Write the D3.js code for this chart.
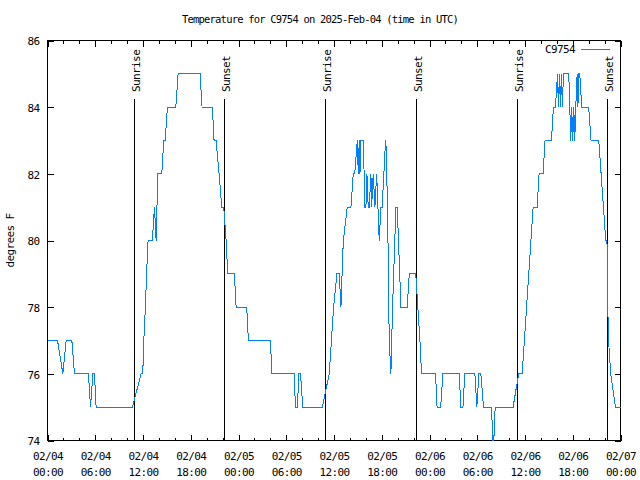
<!DOCTYPE html>
<html><head><meta charset="utf-8">
<script src="https://cdn.jsdelivr.net/npm/d3@7/dist/d3.min.js"></script>
<style>body{margin:0;background:#fff}svg{display:block}</style>
</head><body><svg id="chart" width="640" height="480"></svg>
<script>
// ---------- data ----------
const startTime = "2025-02-04T00:00:00Z";
const seriesName = "C9754";
const titleText = "Temperature for C9754 on 2025-Feb-04 (time in UTC)";
const yAxisLabel = "degrees F";
// hours since start time, and the temperature (°F) read at that moment
const hoursFromStart = [
  0, 1.26, 1.93, 2.35, 3.06, 3.39, 5.15, 5.4, 5.7, 5.9, 6.11, 10.67, 11.76, 11.97,
  12.1, 12.3, 12.45, 12.64, 13.18, 13.44, 13.65, 13.86, 14.36, 14.61, 14.78, 15.07,
  16.12, 16.41, 19.17, 19.42, 20.72, 20.93, 21.18, 21.56, 21.9, 22.15, 22.44, 22.65,
  23.48, 23.7, 25.03, 25.24, 28.0, 28.21, 31.0, 31.15, 31.39, 31.6, 31.8, 32.07,
  34.53, 35.4, 35.95, 36.37, 36.66, 36.87, 37.17, 37.67, 38.13, 38.42, 38.6, 38.93,
  39.05, 39.17, 39.26, 39.38, 39.68, 39.89, 40.01, 40.14, 40.3, 40.43, 40.64, 40.73,
  40.93, 41.14, 41.36, 41.68, 41.9, 42.05, 42.48, 42.52, 42.73, 42.94, 43.15, 43.36,
  43.78, 43.95, 44.41, 45.2, 45.46, 46.27, 46.8, 47.0, 48.76, 48.95, 49.4, 49.68,
  51.73, 51.95, 52.2, 52.44, 53.7, 53.95, 54.2, 54.45, 54.79, 55.8, 55.95, 56.08,
  56.25, 58.5, 59.2, 59.65, 61.02, 61.52, 61.77, 62.27, 62.52, 63.33, 63.57, 63.83,
  64.08, 64.2, 64.32, 64.45, 64.57, 64.7, 64.83, 65.5, 65.63, 65.75, 65.87, 66.0,
  66.13, 66.25, 66.38, 66.55, 66.65, 66.75, 66.88, 67.13, 68.0, 68.3, 69.27, 70.15,
  70.3, 70.4, 70.5, 70.77, 71.36, 72
];
const tempsF = [
  77, 77, 76, 77, 77, 76, 76, 75, 76, 76, 75, 75, 76, 76,
  77, 78, 79, 80, 80, 81, 80, 82, 82, 83, 83, 84,
  84, 85, 85, 84, 84, 83, 83, 82, 81, 81, 80, 79,
  79, 78, 78, 77, 77, 76, 76, 75, 75, 76, 76, 75,
  75, 76, 78, 79, 79, 78, 80, 81, 81, 82, 82, 83,
  82, 83, 82, 83, 83, 81, 81, 82, 81, 81, 82, 81,
  82, 81, 82, 80, 81, 81, 83, 83, 81, 77, 76, 78,
  81, 81, 78, 78, 79, 79, 77, 76, 76, 75, 75, 76,
  76, 75, 75, 76, 76, 75, 76, 76, 75, 75, 74, 74,
  75, 75, 76, 76, 81, 81, 82, 82, 83, 83, 84, 84,
  85, 84, 85, 84, 85, 84, 85, 85, 84, 83, 84, 83,
  84, 83, 84, 85, 84, 85, 85, 84, 84, 83, 83, 80,
  80, 78, 77, 76, 75, 75
];
const sunEventHours = [10.92, 22.22, 34.87, 46.29, 59.0, 70.3];
const sunEventLabels = ["Sunrise", "Sunset", "Sunrise", "Sunset", "Sunrise", "Sunset"];
const yTickValues = [74, 76, 78, 80, 82, 84, 86];
const xMajorTickHours = [0, 6, 12, 18, 24, 30, 36, 42, 48, 54, 60, 66, 72];
const xMinorTickHours = d3.range(0, 73, 2);

// ---------- layout ----------
const W = 640, H = 480;
const pL = 47.5, pR = 620.5, pT = 40.5, pB = 440.5;
const FONT = "'DejaVu Sans Mono', monospace";
const FS = 11;
const LS = "-0.6px";
const lineColor = "#0080ff";

const t0 = new Date(startTime).getTime();
const toDate = h => new Date(t0 + h * 3600e3);
const data = hoursFromStart.map((h, i) => ({ t: toDate(h), v: tempsF[i] }));

const svg = d3.select("#chart");
svg.append("rect").attr("width", W).attr("height", H).attr("fill", "#fff");

const x = d3.scaleUtc().domain([toDate(0), toDate(72)]).range([pL, pR]);
const y = d3.scaleLinear().domain([74, 86]).range([pB, pT]);

const fmtDay = d3.utcFormat("%m/%d"), fmtTime = d3.utcFormat("%H:%M");

function styleAxis(g) {
  g.select(".domain").remove();
  g.selectAll("line").attr("stroke", "#000").attr("shape-rendering", "crispEdges");
  g.selectAll("text").attr("font-family", FONT).attr("font-size", FS)
    .attr("letter-spacing", LS).attr("fill", "#000");
}

// minor x ticks (bottom & top)
svg.append("g").attr("transform", `translate(0,${pB})`)
  .call(d3.axisBottom(x).tickValues(xMinorTickHours.map(toDate)).tickSizeInner(-3).tickSizeOuter(0).tickFormat(""))
  .call(styleAxis);
svg.append("g").attr("transform", `translate(0,${pT})`)
  .call(d3.axisTop(x).tickValues(xMinorTickHours.map(toDate)).tickSizeInner(-3).tickSizeOuter(0).tickFormat(""))
  .call(styleAxis);
// major x ticks
const xb = svg.append("g").attr("transform", `translate(0,${pB})`)
  .call(d3.axisBottom(x).tickValues(xMajorTickHours.map(toDate)).tickSizeInner(-6).tickSizeOuter(0).tickPadding(0))
  .call(styleAxis);
xb.selectAll(".tick text").each(function(d) {
  const t = d3.select(this);
  t.text(null).attr("y", 0).attr("dy", null);
  t.append("tspan").attr("x", 0).attr("y", 19).text(fmtDay(d));
  t.append("tspan").attr("x", 0).attr("y", 35.5).text(fmtTime(d));
});
svg.append("g").attr("transform", `translate(0,${pT})`)
  .call(d3.axisTop(x).tickValues(xMajorTickHours.map(toDate)).tickSizeInner(-6).tickSizeOuter(0).tickFormat(""))
  .call(styleAxis);

// y axes
svg.append("g").attr("transform", `translate(${pL},0)`)
  .call(d3.axisLeft(y).tickValues(yTickValues).tickSizeInner(-6).tickSizeOuter(0).tickPadding(8).tickFormat(d3.format("d")))
  .call(styleAxis)
  .selectAll("text").attr("dy", "0.38em");
svg.append("g").attr("transform", `translate(${pR},0)`)
  .call(d3.axisRight(y).tickValues(yTickValues).tickSizeInner(-6).tickSizeOuter(0).tickFormat(""))
  .call(styleAxis);

// frame
svg.append("rect").attr("x", pL).attr("y", pT).attr("width", pR - pL).attr("height", pB - pT)
  .attr("fill", "none").attr("stroke", "#000").attr("shape-rendering", "crispEdges");

// sunrise / sunset lines
const sunTop = 99;
const sun = svg.append("g");
sunEventHours.forEach((h, i) => {
  const sx = Math.round(x(toDate(h))) + 0.5;
  sun.append("line").attr("x1", sx).attr("x2", sx).attr("y1", sunTop).attr("y2", pB)
    .attr("stroke", "#000").attr("shape-rendering", "crispEdges");
  sun.append("text").attr("transform", `translate(${sx + 5},92) rotate(-90)`)
    .attr("font-family", FONT).attr("font-size", FS).attr("letter-spacing", LS)
    .attr("text-anchor", "start").text(sunEventLabels[i]);
});

// series line
svg.append("path").datum(data)
  .attr("fill", "none").attr("stroke", lineColor).attr("stroke-width", 1)
  .attr("shape-rendering", "crispEdges")
  .attr("d", d3.line().x(d => x(d.t)).y(d => y(d.v)));

// title
svg.append("text").attr("x", W / 2).attr("y", 23).attr("text-anchor", "middle")
  .attr("font-family", FONT).attr("font-size", 10.5).attr("letter-spacing", "-0.8px").text(titleText);

// y axis label
svg.append("text").attr("transform", `translate(14,${(pT + pB) / 2}) rotate(-90)`)
  .attr("text-anchor", "middle").attr("font-family", FONT).attr("font-size", FS)
  .attr("letter-spacing", LS).text(yAxisLabel);

// legend
svg.append("text").attr("x", 575).attr("y", 53).attr("text-anchor", "end")
  .attr("font-family", FONT).attr("font-size", FS).attr("letter-spacing", LS).text(seriesName);
svg.append("line").attr("x1", 581).attr("x2", 610).attr("y1", 49.5).attr("y2", 49.5)
  .attr("stroke", lineColor).attr("shape-rendering", "crispEdges");
</script>
</body></html>
